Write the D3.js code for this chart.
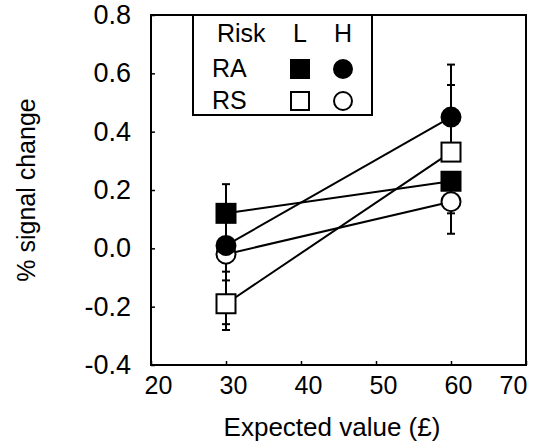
<!DOCTYPE html>
<html>
<head>
<meta charset="utf-8">
<script src="https://cdn.jsdelivr.net/npm/d3@7/dist/d3.min.js"></script>
<style>
  body { margin: 0; background: #fff; }
  svg text { font-family: "Liberation Sans", Arial, sans-serif; fill: #000; }
</style>
</head>
<body>
<svg id="chart" width="533" height="447"></svg>
<script>
// 1] data ------------------------------------------//
const expectedValues = [30, 60];
const xTicks = [20, 30, 40, 50, 60, 70];
const yTicks = [-0.4, -0.2, 0.0, 0.2, 0.4, 0.6, 0.8];

// mean % signal change per group (RA/RS) and risk (L/H)
const raLow  = [0.12, 0.23];
const raHigh = [0.01, 0.45];
const rsLow  = [-0.19, 0.33];
const rsHigh = [-0.02, 0.16];

// error bar lengths (up / down)
const raLowUp    = [0.10, 0.02];
const raLowDown  = [0.10, 0.18];
const raHighUp   = [0.09, 0.18];
const raHighDown = [0.09, 0.02];
const rsLowUp    = [0.08, 0.23];
const rsLowDown  = [0.09, 0.02];
const rsHighUp   = [0.05, 0.02];
const rsHighDown = [0.24, 0.04];

const groupLabels = ["RA", "RS"];
const riskLabels = ["L", "H"];

// series in drawing order
const series = [
  { group: "RS", risk: "H", values: rsHigh, up: rsHighUp, down: rsHighDown },
  { group: "RS", risk: "L", values: rsLow,  up: rsLowUp,  down: rsLowDown },
  { group: "RA", risk: "L", values: raLow,  up: raLowUp,  down: raLowDown },
  { group: "RA", risk: "H", values: raHigh, up: raHighUp, down: raHighDown },
];

// 2] layout -----------------------------------------//
const margin = { left: 151, right: 7, top: 15, bottom: 82 };
const width = 533, height = 447;

const svg = d3.select("#chart");

const xScale = d3.scaleLinear().domain([20, 70]).range([margin.left, width - margin.right]);
const yScale = d3.scaleLinear().domain([-0.4, 0.8]).range([height - margin.bottom, margin.top]);

const fmtY = d => d3.format(".1f")(d).replace("\u2212", "-");

// 3] axes -------------------------------------------//
const xAxis = d3.axisBottom(xScale).tickValues(xTicks).tickSize(-4).tickPadding(11).tickFormat(d3.format("d"));
const yAxis = d3.axisLeft(yScale).tickValues(yTicks).tickSize(-4).tickPadding(20).tickFormat(fmtY);

const gx = svg.append("g")
  .attr("transform", `translate(0,${yScale(-0.4)})`)
  .call(xAxis);
const gy = svg.append("g")
  .attr("transform", `translate(${xScale(20)},0)`)
  .call(yAxis);

[gx, gy].forEach(g => {
  g.select(".domain").remove();
  g.selectAll(".tick line").attr("stroke", "#000").attr("stroke-width", 1.5);
  g.selectAll(".tick text").attr("font-family", "Liberation Sans, Arial, sans-serif");
});
gx.selectAll(".tick text")
  .attr("font-size", 25)
  .attr("dy", "0.71em")
  .attr("dx", d => d === 70 ? -13 : 7);
gy.selectAll(".tick text").attr("font-size", 27);

// frame
svg.append("rect")
  .attr("x", xScale(20)).attr("y", yScale(0.8))
  .attr("width", xScale(70) - xScale(20))
  .attr("height", yScale(-0.4) - yScale(0.8))
  .attr("fill", "none").attr("stroke", "#000").attr("stroke-width", 2);

// axis titles
svg.append("text")
  .attr("x", 332)
  .attr("y", 436)
  .attr("text-anchor", "middle")
  .attr("font-size", 26)
  .text("Expected value (\u00A3)");

svg.append("text")
  .attr("transform", `translate(35,${(yScale(0.8) + yScale(-0.4)) / 2}) rotate(-90)`)
  .attr("text-anchor", "middle")
  .attr("font-size", 25)
  .text("% signal change");

// 4] error bars -------------------------------------//
const capW = 4;
series.forEach(s => {
  expectedValues.forEach((ev, i) => {
    const x = xScale(ev);
    const top = s.values[i] + s.up[i];
    const bot = s.values[i] - s.down[i];
    svg.append("line")
      .attr("x1", x).attr("x2", x)
      .attr("y1", yScale(top)).attr("y2", yScale(bot))
      .attr("stroke", "#000").attr("stroke-width", 2);
    [top, bot].forEach(v => {
      svg.append("line")
        .attr("x1", x - capW).attr("x2", x + capW)
        .attr("y1", yScale(v)).attr("y2", yScale(v))
        .attr("stroke", "#000").attr("stroke-width", 2);
    });
  });
});

// 5] lines ------------------------------------------//
const line = d3.line()
  .x((d, i) => xScale(expectedValues[i]))
  .y(d => yScale(d));

series.forEach(s => {
  svg.append("path")
    .attr("d", line(s.values))
    .attr("fill", "none")
    .attr("stroke", "#000")
    .attr("stroke-width", 2);
});

// 6] markers ----------------------------------------//
function marker(g, risk, group, cx, cy, size) {
  const fill = group === "RA" ? "#000" : "#fff";
  if (risk === "L") {
    g.append("rect")
      .attr("x", cx - size / 2).attr("y", cy - size / 2)
      .attr("width", size).attr("height", size)
      .attr("fill", fill).attr("stroke", "#000").attr("stroke-width", 2);
  } else {
    g.append("circle")
      .attr("cx", cx).attr("cy", cy).attr("r", size / 2)
      .attr("fill", fill).attr("stroke", "#000").attr("stroke-width", 2);
  }
}

series.forEach(s => {
  s.values.forEach((v, i) => {
    marker(svg, s.risk, s.group, xScale(expectedValues[i]), yScale(v), 19);
  });
});

// 7] legend -----------------------------------------//
const leg = svg.append("g");
leg.append("rect")
  .attr("x", 193).attr("y", 15).attr("width", 179).attr("height", 100)
  .attr("fill", "#fff").attr("stroke", "#000").attr("stroke-width", 2);

const colX = [300, 343];
const rowY = [69, 101];

leg.append("text").attr("x", 217).attr("y", 42).attr("font-size", 25).text("Risk");
riskLabels.forEach((r, j) => {
  leg.append("text").attr("x", colX[j]).attr("y", 42).attr("text-anchor", "middle").attr("font-size", 25).text(r);
});
groupLabels.forEach((g, k) => {
  leg.append("text").attr("x", 212).attr("y", rowY[k] + 8).attr("font-size", 25).text(g);
  riskLabels.forEach((r, j) => {
    marker(leg, r, g, colX[j], rowY[k], 18);
  });
});
</script>
</body>
</html>
